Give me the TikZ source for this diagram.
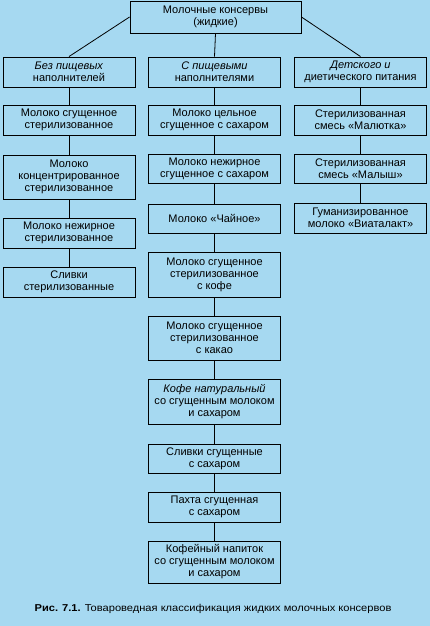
\documentclass[tikz,border=0pt]{standalone}
\usepackage{fontspec}
\setmainfont{Liberation Sans}
\definecolor{bg}{RGB}{166,217,241}
\begin{document}
\begin{tikzpicture}[x=1pt,y=-1pt,
  box/.style={draw=black, line width=0.9pt, align=center, inner sep=1pt,
    minimum width=132pt, font=\fontsize{11}{12}\selectfont},
  link/.style={draw=black, line width=0.8pt}]
\fill[bg] (0,0) rectangle (430,626);
\useasboundingbox (0,0) rectangle (430,626);
% top
\node[box, minimum width=171pt, minimum height=32pt] (top) at (215.5,17) {Молочные консервы\\(жидкие)};
% row 2
\node[box, minimum height=30pt] (l1) at (69,72) {\textit{Без пищевых}\\наполнителей};
\node[box, minimum height=30pt] (m1) at (214.5,72) {\textit{С пищевыми}\\наполнителями};
\node[box, minimum height=30pt] (r1) at (360.5,72) {\textit{Детского и}\\диетического питания};
% left column
\node[box, minimum height=30pt] (l2) at (69,120) {Молоко сгущенное\\стерилизованное};
\node[box, minimum height=44pt] (l3) at (69,177) {Молоко\\концентрированное\\стерилизованное};
\node[box, minimum height=30pt] (l4) at (69,233) {Молоко нежирное\\стерилизованное};
\node[box, minimum height=30pt] (l5) at (69,282) {Сливки\\стерилизованные};
% middle column
\node[box, minimum height=30pt] (m2) at (214.5,120) {Молоко цельное\\сгущенное с сахаром};
\node[box, minimum height=29pt] (m3) at (214.5,169) {Молоко нежирное\\сгущенное с сахаром};
\node[box, minimum height=29pt] (m4) at (214.5,218.5) {Молоко «Чайное»};
\node[box, minimum height=45pt] (m5) at (214.5,274.5) {Молоко сгущенное\\стерилизованное\\с кофе};
\node[box, minimum height=44pt] (m6) at (214.5,338) {Молоко сгущенное\\стерилизованное\\с какао};
\node[box, minimum height=45pt] (m7) at (214.5,401.5) {\textit{Кофе натуральный}\\со сгущенным молоком\\и сахаром};
\node[box, minimum height=29pt] (m8) at (214.5,458.5) {Сливки сгущенные\\с сахаром};
\node[box, minimum height=30pt] (m9) at (214.5,507) {Пахта сгущенная\\с сахаром};
\node[box, minimum height=42pt] (m10) at (214.5,562) {Кофейный напиток\\со сгущенным молоком\\и сахаром};
% right column
\node[box, minimum height=30pt] (r2) at (360.5,120) {Стерилизованная\\смесь «Малютка»};
\node[box, minimum height=29pt] (r3) at (360.5,169) {Стерилизованная\\смесь «Малыш»};
\node[box, minimum height=30pt] (r4) at (360.5,218) {Гуманизированное\\молоко «Виаталакт»};
% connectors
\draw[link] (top.west) -- (l1.north);
\draw[link] (top.east) -- (r1.north);
\draw[link] (top.south) -- (m1.north);
\foreach \a/\b in {l1/l2,l2/l3,l3/l4,l4/l5,m1/m2,m2/m3,m3/m4,m4/m5,m5/m6,m6/m7,m7/m8,m8/m9,m9/m10,r1/r2,r2/r3,r3/r4}
  \draw[link] (\a.south) -- (\b.north);
% caption
\node[font=\fontsize{10}{11}\selectfont] (cap) at (213,609) {\scalebox{1.11}[1]{\textbf{Рис. 7.1.} Товароведная классификация жидких молочных консервов}};
\end{tikzpicture}
\end{document}
